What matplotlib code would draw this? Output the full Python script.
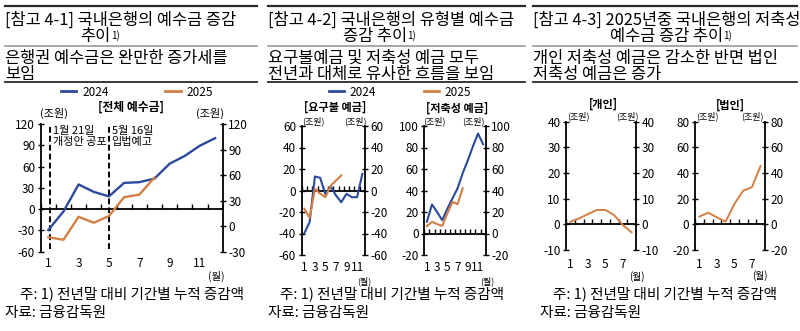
import numpy as np
import matplotlib
matplotlib.use('Agg')
import matplotlib.pyplot as plt
from matplotlib.lines import Line2D

plt.rcParams['font.family'] = ['Noto Sans CJK KR', 'DejaVu Sans']
plt.rcParams['axes.unicode_minus'] = False

W, H = 800, 331
BLUE = '#2B4A9A'
ORANGE = '#D17F45'
DARK = '#2a2a2a'

# ---- data (조원, 전년말 대비 누적 증감) ----
months = np.arange(1, 13)
months_2025 = np.arange(1, 9)

total_2024 = [-29.5, -3.3, 34.8, 24.3, 18.0, 37.0, 38.0, 43.0, 64.0, 75.0, 89.5, 100.0]
total_2025 = [-13.0, -16.0, 11.0, 4.0, 12.0, 34.0, 37.0, 57.0]   # 오른쪽 축
event_x = [1.12, 5.0]
event_text = ['1월 21일\n개정안 공포', '5월 16일\n입법예고']

demand_2024 = [-39.7, -29.5, 13.0, 11.8, -3.7, 3.7, -4.6, -10.9, -3.0, -6.2, -6.2, 15.5]
demand_2025 = [-17.0, -25.4, 1.5, -3.0, -6.2, 4.6, 9.3, 14.0]
savings_2024 = [10.9, 27.0, 20.0, 12.4, 23.0, 32.6, 42.0, 56.0, 68.0, 81.0, 93.0, 83.0]
savings_2025 = [6.8, 10.9, 8.7, 7.1, 18.6, 29.5, 27.3, 42.0]

personal_2025 = [1.0, 2.3, 4.0, 5.6, 5.6, 3.6, -0.3, -3.1]
corporate_2025 = [6.0, 9.1, 5.5, 2.1, 15.9, 26.2, 28.9, 45.5]

footnote = '주: 1) 전년말 대비 기간별 누적 증감액'
source = '자료: 금융감독원'

HFS = 11.8   # 제목/부제 글자 크기


def make_ax(fig, l, r, top, bot, ylim, yticks, xmax, xticks, rylim=None, rticks=None,
            fs=8.5, xpad=4):
    ax = fig.add_axes([l / W, 1 - bot / H, (r - l) / W, (bot - top) / H])
    ax.set_xlim(0.5, xmax + 0.5)
    ax.set_ylim(*ylim)
    ax.set_yticks(yticks)
    ax.set_xticks(xticks)
    ax.tick_params(axis='x', length=0, pad=xpad, labelsize=fs)
    ax.tick_params(axis='y', direction='inout', length=4, width=1, labelsize=fs, pad=2)
    for s in ['top', 'bottom', 'right']:
        ax.spines[s].set_visible(False)
    ax.spines['left'].set_linewidth(1.3)
    ax.patch.set_visible(False)
    ax2 = ax.twinx()
    ax2.set_ylim(*(rylim if rylim else ylim))
    ax2.set_yticks(rticks if rticks is not None else yticks)
    ax2.tick_params(axis='y', direction='inout', length=4, width=1, labelsize=fs, pad=2)
    for s in ['top', 'bottom', 'left']:
        ax2.spines[s].set_visible(False)
    ax2.spines['right'].set_linewidth(1.3)
    # 0 기준선과 눈금
    ax.axhline(0, color='black', lw=1.3, zorder=1)
    b = np.arange(0.5, xmax + 0.51, 1.0)
    ax.plot(b, np.zeros_like(b), ls='none', marker=2, ms=3.5, mew=1, color='black', zorder=1)
    return ax, ax2


def header(bg, x0, x1, t1, t2, indent, s1, s2):
    bg.plot([x0, x1], [6, 6], color=DARK, lw=1.6)
    bg.text(x0, 20, t1, fontsize=HFS, va='center', ha='left', fontweight='medium')
    t = bg.text(indent, 36.5, t2, fontsize=HFS, va='center', ha='left', fontweight='medium')
    bg.annotate('1)', xy=(1, 1), xycoords=t, xytext=(0.3, -1.8), textcoords='offset points',
                fontsize=7, va='top', ha='left')
    bg.plot([x0, x1], [46, 46], color='#9a9a9a', lw=1.2)
    bg.text(x0, 58, s1, fontsize=HFS, va='center', ha='left', fontweight='medium')
    bg.text(x0, 74, s2, fontsize=HFS, va='center', ha='left', fontweight='medium')
    bg.plot([x0, x1], [81.5, 81.5], color=DARK, lw=1.3)


def notes(bg, x_note, x_src):
    bg.text(x_note, 294, footnote, fontsize=10.5, va='center', ha='left')
    bg.text(x_src, 313, source, fontsize=10.5, va='center', ha='left')


fig = plt.figure(figsize=(W / 100, H / 100), dpi=100)
bg = fig.add_axes([0, 0, 1, 1])
bg.set_xlim(0, W)
bg.set_ylim(H, 0)
bg.axis('off')

handles = [Line2D([], [], color=BLUE, lw=2), Line2D([], [], color=ORANGE, lw=2)]

# ---------------- 참고 4-1 ----------------
header(bg, 5, 257, '[참고 4-1] 국내은행의 예수금 증감', '추이', 80,
       '은행권 예수금은 완만한 증가세를', '보임')
fig.legend(handles, ['2024', '2025'], loc='center', bbox_to_anchor=(137, 92),
           bbox_transform=bg.transData, ncol=2, frameon=False, fontsize=8.5,
           handlelength=1.3, columnspacing=4.8, handletextpad=0.5)
ax, ax2 = make_ax(fig, 40.7, 222.7, 124, 251.7, (-60, 120), np.arange(-60, 121, 30),
                  12, months[::2], rylim=(-30, 120), rticks=np.arange(-30, 121, 30), xpad=4)
for x, txt in zip(event_x, event_text):
    ax.axvline(x, ymin=0.02, ymax=1, color='black', ls=(0, (3, 1.6)), lw=1.4, zorder=2)
    ax.text(x + 0.18, 117, txt, fontsize=8, va='top', ha='left', linespacing=1.15)
ax.plot(months, total_2024, color=BLUE, lw=1.7, zorder=3)
ax2.plot(months_2025, total_2025, color=ORANGE, lw=1.7, zorder=3)
bg.text(131, 107, '[전체 예수금]', fontsize=8.5, fontweight='bold', ha='center', va='center')
bg.text(54, 113, '(조원)', fontsize=8, ha='center', va='center')
bg.text(210, 113, '(조원)', fontsize=8, ha='center', va='center')
bg.text(216, 276, '(월)', fontsize=7.5, ha='center', va='center')
notes(bg, 20, 5)

# ---------------- 참고 4-2 ----------------
header(bg, 268, 525, '[참고 4-2] 국내은행의 유형별 예수금', '증감 추이', 343,
       '요구불예금 및 저축성 예금 모두', '전년과 대체로 유사한 흐름을 보임')
fig.legend(handles, ['2024', '2025'], loc='center', bbox_to_anchor=(400, 92),
           bbox_transform=bg.transData, ncol=2, frameon=False, fontsize=8.5,
           handlelength=1.3, columnspacing=4.0, handletextpad=0.5)
ax, ax2 = make_ax(fig, 301.7, 365, 126, 255, (-60, 60), np.arange(-60, 61, 20),
                  12, months[::2], xpad=4)
ax.plot(months, demand_2024, color=BLUE, lw=1.5, zorder=3)
ax.plot(months_2025, demand_2025, color=ORANGE, lw=1.5, zorder=3)
ax, ax2 = make_ax(fig, 424.3, 485.7, 126, 255, (-20, 100), np.arange(-20, 101, 20),
                  12, months[::2], xpad=4)
ax.plot(months, savings_2024, color=BLUE, lw=1.5, zorder=3)
ax.plot(months_2025, savings_2025, color=ORANGE, lw=1.5, zorder=3)
bg.text(335, 107, '[요구불 예금]', fontsize=8, fontweight='bold', ha='center', va='center')
bg.text(457, 108, '[저축성 예금]', fontsize=8, fontweight='bold', ha='center', va='center')
for cx in [313, 355, 434, 473]:
    bg.text(cx, 121, '(조원)', fontsize=6.5, ha='center', va='center')
bg.text(364, 281, '(월)', fontsize=6.5, ha='center', va='center')
bg.text(487, 281, '(월)', fontsize=6.5, ha='center', va='center')
notes(bg, 280, 268)

# ---------------- 참고 4-3 ----------------
header(bg, 533, 797, '[참고 4-3] 2025년중 국내은행의 저축성', '예수금 증감 추이', 610,
       '개인 저축성 예금은 감소한 반면 법인', '저축성 예금은 증가')
ax, ax2 = make_ax(fig, 566, 636, 121.7, 250, (-10, 40), np.arange(-10, 41, 10),
                  8, months_2025[::2], xpad=6)
ax.plot(months_2025, personal_2025, color=ORANGE, lw=1.4, zorder=3)
ax, ax2 = make_ax(fig, 695, 765, 121.7, 250, (-20, 80), np.arange(-20, 81, 20),
                  8, months_2025[::2], xpad=6)
ax.plot(months_2025, corporate_2025, color=ORANGE, lw=1.4, zorder=3)
bg.text(603, 104, '[개인]', fontsize=8, fontweight='bold', ha='center', va='center')
bg.text(730, 105, '[법인]', fontsize=8, fontweight='bold', ha='center', va='center')
for cx in [578, 627, 707, 752]:
    bg.text(cx, 116, '(조원)', fontsize=6.5, ha='center', va='center')
bg.text(637, 277, '(월)', fontsize=7, ha='center', va='center')
bg.text(760, 276, '(월)', fontsize=7, ha='center', va='center')
notes(bg, 553, 540)

fig.savefig('out.png', dpi=100)
